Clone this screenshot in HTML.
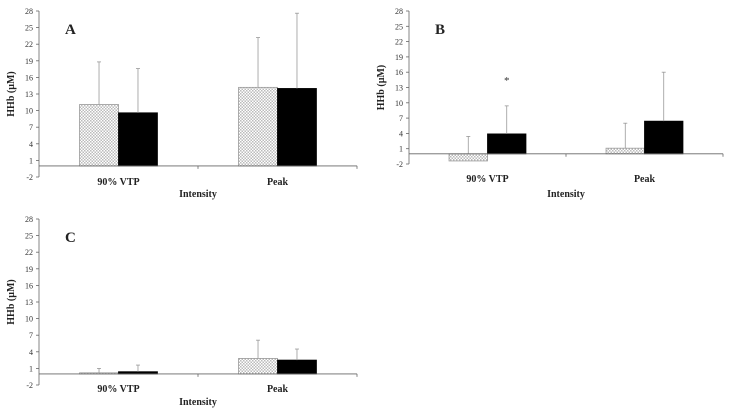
<!DOCTYPE html>
<html><head><meta charset="utf-8">
<style>
html,body{margin:0;padding:0;background:#fff;}
svg{display:block;font-family:"Liberation Serif",serif;}
</style></head>
<body>
<svg id="chart" width="734" height="415" viewBox="0 0 734 415" xmlns="http://www.w3.org/2000/svg">
<defs>
<pattern id="dots" width="3" height="3" patternUnits="userSpaceOnUse">
<rect width="3" height="3" fill="#fff"/>
<rect x="0" y="0" width="1.5" height="1.5" fill="#bbb"/>
<rect x="1.5" y="1.5" width="1.5" height="1.5" fill="#bbb"/>
</pattern>
</defs>
</svg>
<script>
const categories = ["90% VTP", "Peak"];
const yTicks = [-2, 1, 4, 7, 10, 13, 16, 19, 22, 25, 28];
const aDotted = [11.1, 14.2];
const aDottedErr = [7.7, 9.0];
const aBlack = [9.6, 14.0];
const aBlackErr = [8.0, 13.6];
const bDotted = [-1.4, 1.1];
const bDottedErr = [4.8, 4.9];
const bBlack = [3.9, 6.4];
const bBlackErr = [5.5, 9.6];
const cDotted = [0.2, 2.8];
const cDottedErr = [0.8, 3.3];
const cBlack = [0.4, 2.5];
const cBlackErr = [1.2, 2.0];
const bSignificant = ["*", ""];

const svg = document.getElementById('chart');
const NS = 'http://www.w3.org/2000/svg';
function mk(tag, attrs, parent) {
  const e = document.createElementNS(NS, tag);
  for (const k in attrs) e.setAttribute(k, attrs[k]);
  (parent || svg).appendChild(e);
  return e;
}

function panel(cfg) {
  const g = mk('g', {});
  
  
  const yMin = -2, yMax = 28;
  const y = v => cfg.top + (yMax - v) / (yMax - yMin) * (cfg.bottom - cfg.top);
  const x0 = cfg.left, x1 = cfg.right;
  const groupW = (x1 - x0) / categories.length;
  const ya = mk('line', {x1: x0, y1: cfg.top, x2: x0, y2: cfg.bottom, stroke: '#666', 'stroke-width': 0.8}, g);
  
  
  yTicks.forEach(t => {
    mk('line', {x1: x0 - 3, y1: y(t), x2: x0, y2: y(t), stroke: '#666', 'stroke-width': 0.8}, g);
    const tl = mk('text', {x: x0 - 6, y: y(t) + 3, 'text-anchor': 'end', 'font-size': 8, fill: '#333'}, g);
    tl.textContent = t;
    
    
  });
  categories.forEach((c, i) => {
    const cx = x0 + groupW * (i + 0.5);
    const bw = groupW * 0.245;
    const series = [
      {v: cfg.dotted[i], e: cfg.dottedErr[i], fill: 'url(#dots)', stroke: '#999', x: cx - bw, name: 'bar-dotted-' + i},
      {v: cfg.black[i], e: cfg.blackErr[i], fill: '#000', stroke: '#000', x: cx, name: 'bar-black-' + i}
    ];
    series.forEach(s => {
      const top = Math.min(y(s.v), y(0)), h = Math.abs(y(s.v) - y(0));
      const r = mk('rect', {x: s.x, y: top, width: bw, height: Math.max(h, 0.8), fill: s.fill, stroke: s.stroke, 'stroke-width': 0.8}, g);
      
      
      const mx = s.x + bw / 2;
      const base = s.v >= 0 ? y(s.v) : y(0);
      const eb = mk('line', {x1: mx, y1: base, x2: mx, y2: y(s.v + s.e), stroke: '#999', 'stroke-width': 0.8}, g);
      
      
      mk('line', {x1: mx - 2, y1: y(s.v + s.e), x2: mx + 2, y2: y(s.v + s.e), stroke: '#999', 'stroke-width': 0.8}, g);
    });
    if (cfg.sig && cfg.sig[i]) {
      const st = mk('text', {x: cx + bw / 2, y: y(cfg.black[i] + cfg.blackErr[i]) - 22, 'text-anchor': 'middle', 'font-size': 11, fill: '#333'}, g);
      st.textContent = cfg.sig[i];
      
      
    }
    const cl = mk('text', {x: cx, y: cfg.catY, 'text-anchor': 'middle', 'font-size': 10, 'font-weight': 'bold', fill: '#222'}, g);
    cl.textContent = c;
    
    
  });
  const xa = mk('line', {x1: x0, y1: y(0), x2: x1, y2: y(0), stroke: '#666', 'stroke-width': 0.8}, g);
  
  
  for (let i = 1; i < categories.length; i++) mk('line', {x1: x0 + groupW * i, y1: y(0), x2: x0 + groupW * i, y2: y(0) + 3, stroke: '#666', 'stroke-width': 0.8}, g);
  mk('line', {x1: x1, y1: y(0), x2: x1, y2: y(0) + 3, stroke: '#666', 'stroke-width': 0.8}, g);
  const xt = mk('text', {x: (x0 + x1) / 2, y: cfg.titleY, 'text-anchor': 'middle', 'font-size': 10, 'font-weight': 'bold', fill: '#222'}, g);
  xt.textContent = 'Intensity';
  
  
  const yc = (cfg.top + cfg.bottom) / 2;
  const yt = mk('text', {x: cfg.left - 25, y: yc, 'text-anchor': 'middle', 'font-size': 10, 'font-weight': 'bold', fill: '#222', transform: 'rotate(-90 ' + (cfg.left - 25) + ' ' + yc + ')'}, g);
  yt.textContent = 'HHb (µM)';
  
  
  const pl = mk('text', {x: cfg.left + 26, y: cfg.top + 23, 'font-size': 15, 'font-weight': 'bold', fill: '#222'}, g);
  pl.textContent = cfg.letter;
  
  
}

panel({letter: 'A', left: 39, right: 357, top: 11, bottom: 177, catY: 185, titleY: 197,
  dotted: aDotted, dottedErr: aDottedErr, black: aBlack, blackErr: aBlackErr});
panel({letter: 'B', left: 409, right: 723, top: 11, bottom: 164, catY: 182, titleY: 197,
  dotted: bDotted, dottedErr: bDottedErr, black: bBlack, blackErr: bBlackErr, sig: bSignificant});
panel({letter: 'C', left: 39, right: 357, top: 219, bottom: 385, catY: 392, titleY: 405,
  dotted: cDotted, dottedErr: cDottedErr, black: cBlack, blackErr: cBlackErr});
</script>
</body></html>
